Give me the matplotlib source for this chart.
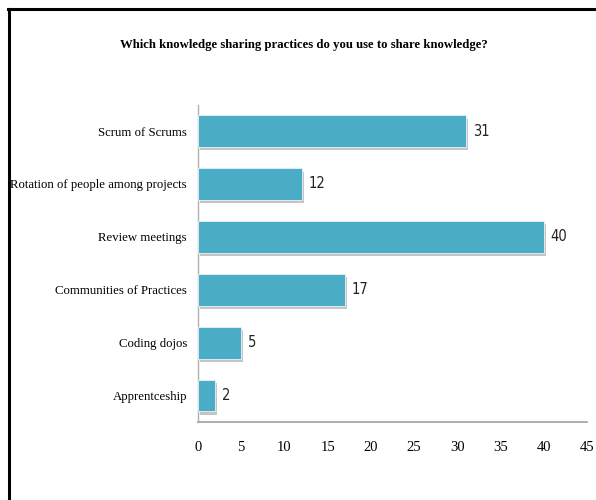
import matplotlib
matplotlib.use("Agg")
import matplotlib.pyplot as plt
from matplotlib import patheffects as pe
from matplotlib.lines import Line2D

categories = ["Scrum of Scrums", "Rotation of people among projects", "Review meetings",
              "Communities of Practices", "Coding dojos", "Apprentceship"]
values = [31, 12, 40, 17, 5, 2]
xticks = [0, 5, 10, 15, 20, 25, 30, 35, 40, 45]
title = "Which knowledge sharing practices do you use to share knowledge?"

fig = plt.figure(figsize=(5.96, 5.0), dpi=100)
ax = fig.add_axes([198/596, 78/500, 389/596, (422-104.6)/500])

ypos = list(range(len(categories)))[::-1]
bars = ax.barh(ypos, values, height=0.6, color="#4bacc6", edgecolor="#e8f4f8", linewidth=0.6, zorder=3)
for b in bars:
    b.set_path_effects([pe.SimplePatchShadow(offset=(1.5, -2.5), shadow_rgbFace="#808080", alpha=0.45),
                        pe.Normal()])

for y, v in zip(ypos, values):
    ax.annotate(str(v), xy=(v, y), xytext=(5, 0), textcoords="offset points",
                va="center", ha="left", fontsize=10.5, family="DejaVu Sans", fontstretch="condensed",
                color="#222222")

ax.set_xlim(0, 45)
ax.set_ylim(-0.5, len(categories) - 0.5)
ax.set_xticks(xticks)
ax.set_xticklabels([str(t) for t in xticks], family="Liberation Serif", fontsize=10.5)
ax.set_yticks(ypos)
ax.set_yticklabels(categories, family="Liberation Serif", fontsize=9.2)
ax.tick_params(axis="both", length=0)
ax.tick_params(axis="x", pad=14)
ax.tick_params(axis="y", pad=8)
for s in ["top", "right"]:
    ax.spines[s].set_visible(False)
ax.spines["left"].set_color("#b0b0b0")
ax.spines["bottom"].set_color("#a0a0a0")
ax.spines["left"].set_linewidth(1.0)
ax.spines["bottom"].set_linewidth(1.2)

fig.text(304/596, 1 - 45/500, title, ha="center", va="center", family="Liberation Serif",
         fontweight="bold", fontsize=9.2)

# frame lines (top and left)
fig.add_artist(Line2D([8/596, 1], [1 - 9/500, 1 - 9/500], transform=fig.transFigure, color="black", lw=2.2))
fig.add_artist(Line2D([9/596, 9/596], [0, 1 - 9/500], transform=fig.transFigure, color="black", lw=2.2))

fig.savefig("out.png", dpi=100)
